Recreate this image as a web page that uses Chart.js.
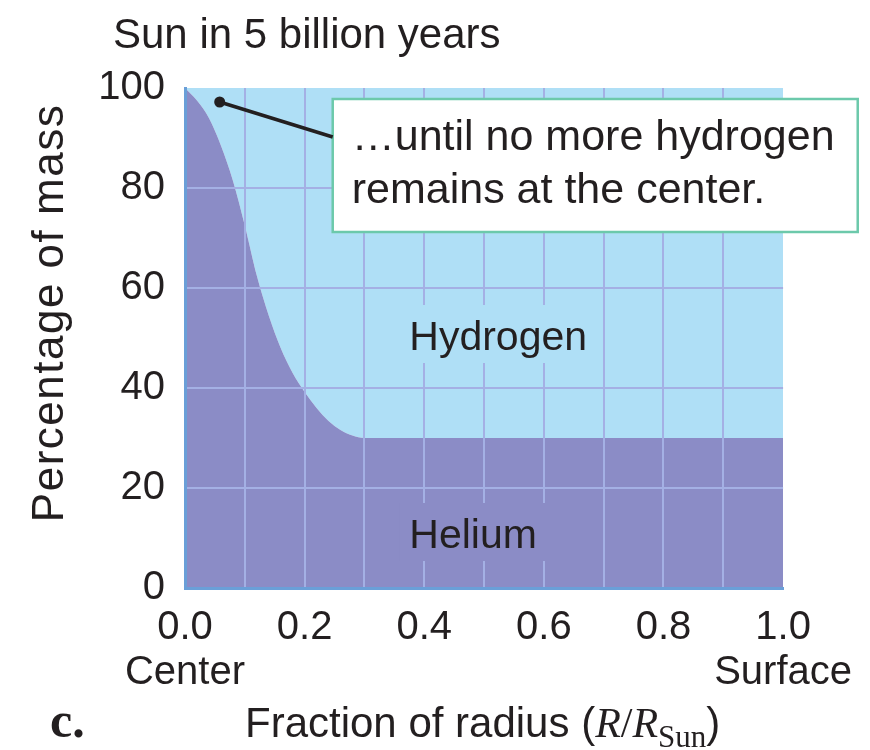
<!DOCTYPE html>
<html>
<head>
<meta charset="utf-8">
<script src="https://cdn.jsdelivr.net/npm/chart.js@4.4.0/dist/chart.umd.min.js"></script>
<style>
  body { margin: 0; background: #fff; }
  canvas { display: block; }
</style>
</head>
<body>
<canvas id="chart" width="870" height="750"></canvas>
<script>
// Fraction of radius (R / R_Sun)
const radius = [0, 0.02, 0.04, 0.06, 0.08, 0.10, 0.12, 0.14, 0.16, 0.18, 0.20, 0.22, 0.24, 0.26, 0.28, 0.30, 0.40, 0.50, 0.60, 0.70, 0.80, 0.90, 1.00];
// helium, percentage of mass
const helium = [100, 97.5, 94, 88.5, 81.5, 72.5, 62.5, 54.5, 48, 43, 39.2, 36, 33.4, 31.6, 30.5, 30, 30, 30, 30, 30, 30, 30, 30];
// hydrogen is whatever is left
const hydrogen = helium.map(v => 100 - v);

const xTickLabels = ['0.0', '0.2', '0.4', '0.6', '0.8', '1.0'];
const xEndLabels = ['Center', 'Surface'];
const yTicks = [0, 20, 40, 60, 80, 100];

const SANS = "'Liberation Sans', Arial, Helvetica, sans-serif";
const SERIF = "'Liberation Serif', 'Times New Roman', serif";
const TEXT = '#231f20';
const BLUE = '#afdff6';
const PURPLE = '#8b8cc6';
const GRID = '#a4b0e4';
const AXIS = '#6a9fd8';
const BOX = '#6cc9ab';

// annotation, in data units
const note = { dotX: 0.058, dotY: 97.2, boxX: 0.247, boxY: 97.8 };

// text and callout drawn on top of everything (grid included)
const overlay = {
    id: 'overlay',
    afterDraw(chart) {
        const { ctx, scales: { x, y } } = chart;
        ctx.save();
        ctx.fillStyle = TEXT;
        ctx.textBaseline = 'alphabetic';

        // title
        ctx.font = '42px ' + SANS;
        ctx.textAlign = 'left';
        ctx.fillText('Sun in 5 billion years', 113, 48);

        // y axis title
        ctx.save();
        ctx.translate(63, 313);
        ctx.rotate(-Math.PI / 2);
        ctx.font = '44px ' + SANS;
        ctx.letterSpacing = '1.5px';
        ctx.textAlign = 'center';
        ctx.fillText('Percentage of mass', 0, 0);
        ctx.restore();

        // region labels, with a patch of fill behind so the grid stops short
        const region = (label, val, bg) => {
            ctx.font = '41px ' + SANS;
            const px = x.getPixelForValue(0.375);
            const py = y.getPixelForValue(val);
            const w = ctx.measureText(label).width;
            ctx.fillStyle = bg;
            ctx.fillRect(px - 10, py - 45, w + 20, 58);
            ctx.fillStyle = TEXT;
            ctx.fillText(label, px, py);
        };
        region('Hydrogen', 47.6, BLUE);
        region('Helium', 8, PURPLE);

        // callout box
        const bx = x.getPixelForValue(note.boxX);
        const by = y.getPixelForValue(note.boxY);
        ctx.fillStyle = '#fff';
        ctx.fillRect(bx, by, 525, 133);
        ctx.strokeStyle = BOX;
        ctx.lineWidth = 2.5;
        ctx.strokeRect(bx, by, 525, 133);
        ctx.fillStyle = TEXT;
        ctx.font = '43px ' + SANS;
        ctx.fillText('\u2026until no more hydrogen', bx + 19, by + 51);
        ctx.fillText('remains at the center.', bx + 19, by + 104);

        // pointer line + dot
        const dx = x.getPixelForValue(note.dotX);
        const dy = y.getPixelForValue(note.dotY);
        ctx.strokeStyle = TEXT;
        ctx.lineWidth = 3.5;
        ctx.beginPath();
        ctx.moveTo(dx, dy);
        ctx.lineTo(bx, by + 38);
        ctx.stroke();
        ctx.beginPath();
        ctx.arc(dx, dy, 5.5, 0, Math.PI * 2);
        ctx.fill();

        // x axis title: c.  Fraction of radius (R/R_Sun)
        ctx.font = 'bold 50px ' + SERIF;
        ctx.fillText('c.', 50, 737);
        let cx = 245;
        const part = (t, font, dy) => {
            ctx.font = font;
            ctx.fillText(t, cx, 737 + (dy || 0));
            cx += ctx.measureText(t).width;
        };
        part('Fraction of radius (', '42px ' + SANS);
        part('R', 'italic 42px ' + SERIF);
        part('/', '42px ' + SERIF);
        part('R', 'italic 42px ' + SERIF);
        part('Sun', '31px ' + SERIF, 10);
        part(')', '42px ' + SANS);

        ctx.restore();
    }
};

const ctx = document.getElementById('chart').getContext('2d');
const chart = new Chart(ctx, {
    type: 'line',
    data: {
        datasets: [{
            label: 'Helium',
            data: radius.map((r, i) => ({ x: r, y: helium[i] })),
            backgroundColor: PURPLE,
            borderWidth: 0,
            pointRadius: 0,
            cubicInterpolationMode: 'monotone',
            fill: 'origin'
        }, {
            label: 'Hydrogen',
            data: radius.map((r, i) => ({ x: r, y: hydrogen[i] })),
            backgroundColor: BLUE,
            borderWidth: 0,
            pointRadius: 0,
            cubicInterpolationMode: 'monotone',
            fill: '-1'
        }]
    },
    options: {
        responsive: false,
        animation: false,
        layout: { padding: { top: 88, right: 85, left: 0, bottom: 0 } },
        plugins: {
            legend: { display: false },
            tooltip: { enabled: false }
        },
        scales: {
            x: {
                type: 'linear',
                min: 0,
                max: 1,
                afterFit: s => { s.height = 162; },
                border: { color: AXIS, width: 3, z: 2 },
                grid: {
                    z: 1,
                    drawTicks: false,
                    lineWidth: 2,
                    color: c => (c.tick && Math.abs(c.tick.value - 1) < 1e-6) ? 'rgba(0,0,0,0)' : GRID
                },
                ticks: {
                    stepSize: 0.1,
                    autoSkip: false,
                    maxRotation: 0,
                    padding: 18,
                    color: TEXT,
                    font: { family: SANS, size: 40, lineHeight: 1.12 },
                    callback: v => {
                        const k = Math.round(v * 10);
                        if (k % 2) return '';
                        const lbl = xTickLabels[k / 2];
                        if (k === 0) return [lbl, xEndLabels[0]];
                        if (k === 10) return [lbl, xEndLabels[1]];
                        return lbl;
                    }
                }
            },
            y: {
                stacked: true,
                min: 0,
                max: 100,
                afterFit: s => { s.width = 185; },
                afterBuildTicks: s => { s.ticks = yTicks.map(v => ({ value: v })); },
                border: { color: AXIS, width: 3, z: 2 },
                grid: {
                    z: 1,
                    drawTicks: false,
                    lineWidth: 2,
                    color: c => (c.tick && c.tick.value === 100) ? 'rgba(0,0,0,0)' : GRID
                },
                ticks: {
                    padding: 20,
                    color: TEXT,
                    font: { family: SANS, size: 40 }
                }
            }
        }
    },
    plugins: [overlay]
});
</script>
</body>
</html>
